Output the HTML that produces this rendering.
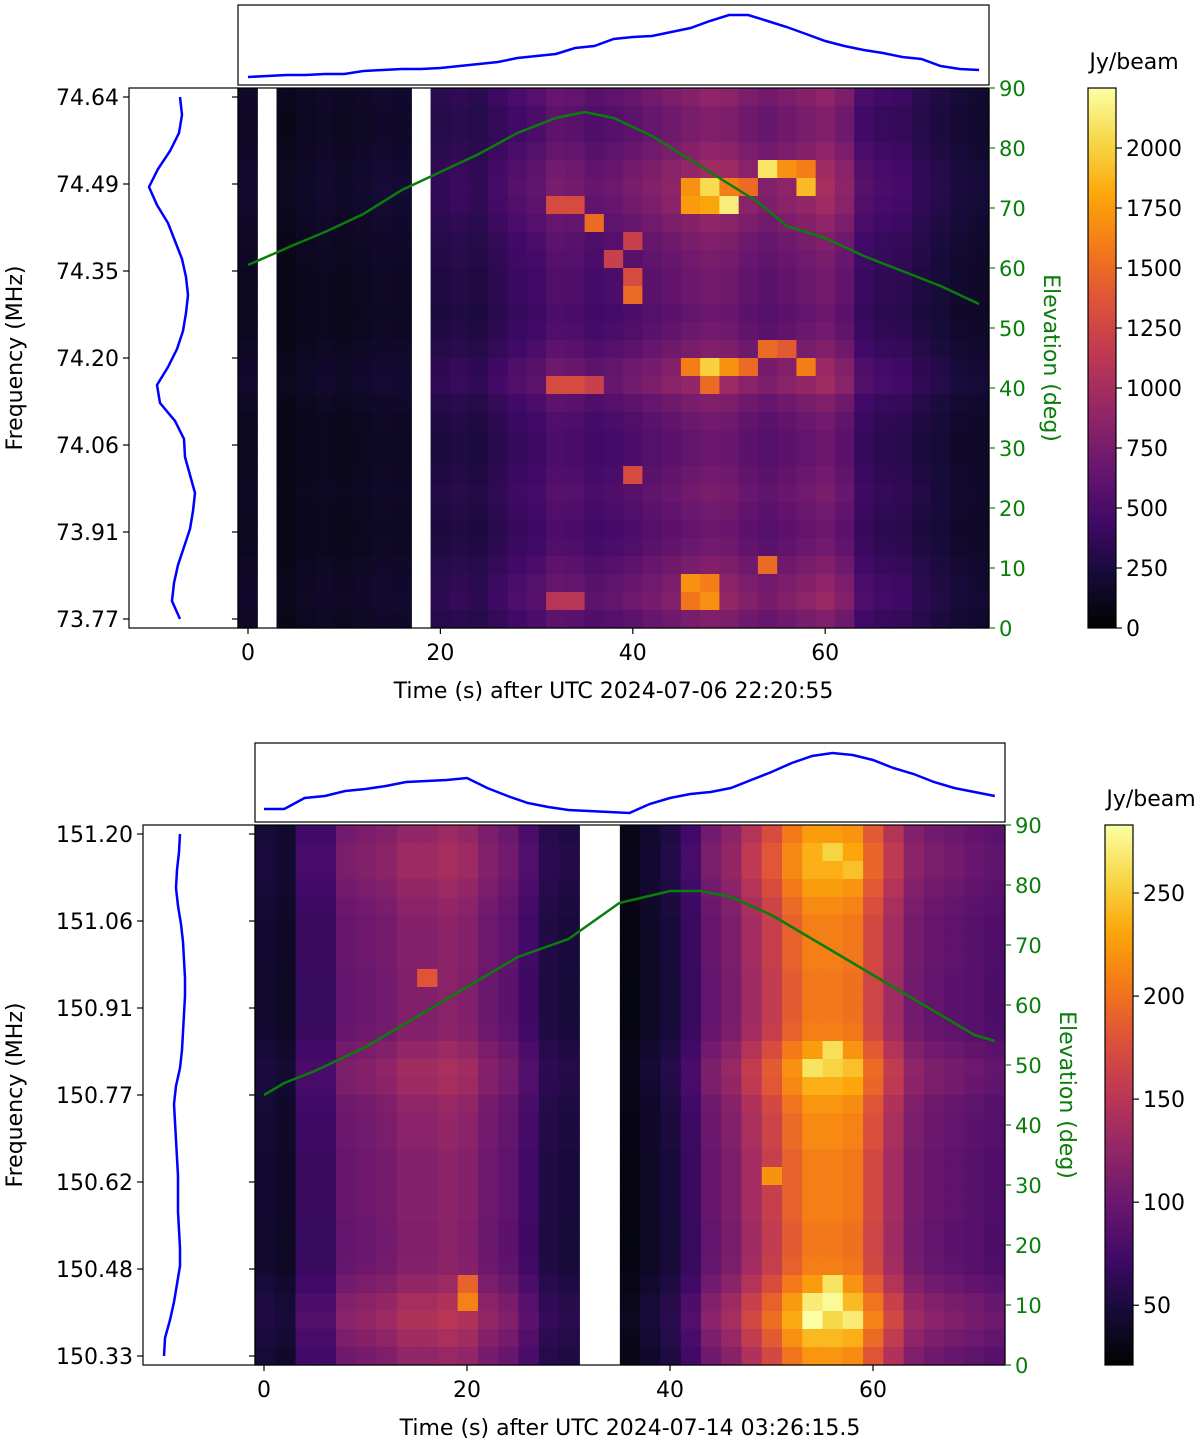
<!DOCTYPE html>
<html><head><meta charset="utf-8"><style>
body{margin:0;background:#fff}
svg text{font-family:"DejaVu Sans","Liberation Sans",sans-serif}
</style></head><body>
<svg id="chart" width="1200" height="1444" viewBox="0 0 1200 1444" xmlns="http://www.w3.org/2000/svg"></svg>
<script>
// ---------- Panel 1 data ----------
const p1ColBase=[150,null,100,130,150,130,150,170,160,null,300,330,300,380,450,500,600,580,520,550,600,650,700,750,800,780,700,650,700,750,800,700,450,400,380,300,250,200,180];
const p1RowFactor=[1.1,1.0,1.0,1.1,1.2,1.25,1.2,1.1,1.0,0.95,0.9,0.9,0.85,0.9,1.0,1.15,1.2,1.0,0.9,0.85,0.85,0.9,0.95,0.9,0.85,0.9,1.0,1.1,1.15,1.0];
const p1HotCol=[27,28,29,23,24,25,26,29,16,17,23,24,25,18,20,19,20,20,27,28,23,24,25,26,29,16,17,18,24,20,27,23,24,24,23,16,17];
const p1HotRow=[4,4,4,5,5,5,5,5,6,6,6,6,6,7,8,9,10,11,14,14,15,15,15,15,15,16,16,16,16,21,26,27,27,28,28,28,28];
const p1HotVal=[2100,1700,1600,1700,2050,1600,1500,1900,1300,1300,1750,1800,2150,1500,1200,1200,1300,1500,1500,1400,1600,2000,1700,1500,1600,1300,1300,1200,1500,1300,1500,1700,1600,1700,1550,1100,1100];
const p1TopT=[0,2,4,6,8,10,12,14,16,18,20,22,24,26,28,30,32,34,36,38,40,42,44,46,48,50,52,54,56,58,60,62,64,66,68,70,72,74,76];
const p1TopV=[4,5,6,6,7,7,10,11,12,12,13,15,17,19,23,25,27,33,35,42,44,45,49,53,60,66,66,60,54,47,40,35,31,28,24,22,15,12,11];
const p1LeftV=[40,42,39,30,18,9,17,28,35,42,46,48,46,43,37,28,17,20,35,44,45,50,55,53,50,44,38,34,32,40];
const p1ElevT=[0,5,8,12,16,20,24,28,32,35,38,42,46,50,53,56,60,64,68,72,76];
const p1ElevV=[60.5,64,66,69,73,76,79,82.5,85,86,85,82,78,74,71,67,65,62,59.5,57,54];
const p1FreqTicks=["74.64","74.49","74.35","74.20","74.06","73.91","73.77"];
// ---------- Panel 2 data ----------
const p2ColBase=[45,40,70,70,100,105,110,120,120,125,120,105,95,75,55,50,null,null,30,40,50,70,100,115,140,165,195,215,215,210,175,140,110,100,95,90,85];
const p2RowFactor=[1.05,1.1,1.1,1.05,1.0,0.97,0.97,0.97,0.95,0.95,0.95,0.97,1.05,1.12,1.1,1.03,1.0,1.0,0.97,0.97,0.97,0.97,0.95,0.95,0.97,1.05,1.15,1.2,1.12,1.03];
const p2HotCol=[28,29,28,27,28,29,27,28,29,27,28,8,10,10,25];
const p2HotRow=[1,2,12,13,13,13,26,26,27,27,25,8,25,26,19];
const p2HotVal=[255,245,262,265,255,245,270,280,270,285,265,180,190,210,220];
const p2TopT=[0,2,4,6,8,10,12,14,16,18,20,22,24,26,28,30,32,34,36,38,40,42,44,46,48,50,52,54,56,58,60,62,64,66,68,70,72];
const p2TopV=[9,9,20,22,27,29,32,36,37,38,40,30,22,15,11,8,7,6,5,14,20,24,26,30,38,46,55,62,65,63,58,50,44,36,30,26,22];
const p2LeftV=[40,39,37,36,38,41,43,44,45,45,44,43,42,40,36,34,35,36,37,38,38,38,39,40,40,37,34,30,25,24];
const p2ElevT=[0,2,5,10,15,20,25,30,35,40,43,46,50,55,60,65,70,72];
const p2ElevV=[45,47,49,53,58,63,68,71,77,79,79,78,75,70,65,60,55,54];
const p2FreqTicks=["151.20","151.06","150.91","150.77","150.62","150.48","150.33"];

const NS="http://www.w3.org/2000/svg";
const svg=document.getElementById('chart');
function mk(tag,attrs,parent,text){const e=document.createElementNS(NS,tag);for(const k in attrs)e.setAttribute(k,attrs[k]);if(text!==undefined)e.textContent=text;(parent||svg).appendChild(e);return e;}
const stops=[[0,4,0],[22,11,57],[66,10,104],[106,23,110],[147,38,103],[188,55,84],[221,81,58],[243,120,25],[252,165,10],[246,215,70],[252,255,164]];
function inferno(t){t=Math.max(0,Math.min(1,t));const f=t*10,i=Math.min(9,Math.floor(f)),u=f-i;const a=stops[i],b=stops[i+1];return `rgb(${Math.round(a[0]+(b[0]-a[0])*u)},${Math.round(a[1]+(b[1]-a[1])*u)},${Math.round(a[2]+(b[2]-a[2])*u)})`;}

function panel(P){
  const g=mk('g',{},svg);
  const nC=P.colBase.length,nR=P.rowFactor.length;
  const cw=(P.x1-P.x0)/nC,rh=(P.y1-P.y0)/nR;
  const xs=t=>P.tx0+t*P.tpx;
  const ey=v=>P.y1-(v/90)*(P.y1-P.y0);
  const cnorm=v=>(v-P.vmin)/(P.vmax-P.vmin);
  const hm=mk('g',{},g);
  for(let c=0;c<nC;c++){if(P.colBase[c]===null)continue;for(let r=0;r<nR;r++){
    let v=P.colBase[c]*P.rowFactor[r];
    for(let h=0;h<P.hotCol.length;h++)if(P.hotCol[h]===c&&P.hotRow[h]===r)v=P.hotVal[h];
    const e=mk('rect',{x:(P.x0+c*cw).toFixed(2),y:(P.y0+r*rh).toFixed(2),width:(cw+0.6).toFixed(2),height:(rh+0.6).toFixed(2),fill:inferno(cnorm(v))},hm);
    }}
  mk('rect',{x:P.x0,y:P.y0,width:P.x1-P.x0,height:P.y1-P.y0,fill:'none',stroke:'#000','stroke-width':1.2},g);
  let d=P.elevT.map((t,i)=>(i?'L':'M')+xs(t).toFixed(1)+' '+ey(P.elevV[i]).toFixed(1)).join(' ');
  let e=mk('path',{d,fill:'none',stroke:'#0a7d0a','stroke-width':2.5},g);
  [0,20,40,60].forEach(t=>{mk('line',{x1:xs(t),x2:xs(t),y1:P.y1,y2:P.y1+6,stroke:'#000','stroke-width':1.2},g);
    const tx=mk('text',{x:xs(t),y:P.y1+32,'font-size':22,'text-anchor':'middle'},g,String(t));});
  const xt=mk('text',{x:(P.x0+P.x1)/2-P.xtitleShift,y:P.y1+70,'font-size':22,'text-anchor':'middle'},g,P.xtitle);
  for(let v=0;v<=90;v+=10){const y=ey(v);mk('line',{x1:P.x1,x2:P.x1+6,y1:y,y2:y,stroke:'#0a7d0a','stroke-width':1.2},g);
    const t=mk('text',{x:P.x1+10,y:y+8,'font-size':21,fill:'#0a7d0a'},g,String(v));}
  const yc=(P.y0+P.y1)/2;
  const et=mk('text',{x:P.x1+55,y:yc,'font-size':22,fill:'#0a7d0a','text-anchor':'middle',transform:`rotate(90 ${P.x1+55} ${yc})`},g,'Elevation (deg)');
  mk('rect',{x:P.lx0,y:P.y0,width:P.x0-P.lx0,height:P.y1-P.y0,fill:'none',stroke:'#000','stroke-width':1.2},g);
  const ry=r=>P.y0+(r+0.5)*rh;
  d=P.leftV.map((v,r)=>(r?'L':'M')+(P.lpx0+v).toFixed(1)+' '+ry(r).toFixed(1)).join(' ');
  e=mk('path',{d,fill:'none',stroke:'#0000ff','stroke-width':2.5},g);
  P.freqTicks.forEach((s,i)=>{const y=ry(i*(nR-1)/6);
    mk('line',{x1:P.lx0-6,x2:P.lx0,y1:y,y2:y,stroke:'#000','stroke-width':1.2},g);
    mk('line',{x1:P.x0-6,x2:P.x0,y1:y,y2:y,stroke:'#000','stroke-width':1.2},g);
    const t=mk('text',{x:P.lx0-10,y:y+8,'font-size':22,'text-anchor':'end'},g,s);});
  const ft=mk('text',{x:22,y:yc,'font-size':22,'text-anchor':'middle',transform:`rotate(-90 22 ${yc})`},g,'Frequency (MHz)');
  mk('rect',{x:P.x0,y:P.ty0,width:P.x1-P.x0,height:P.ty1-P.ty0,fill:'none',stroke:'#000','stroke-width':1.2},g);
  d=P.topT.map((t,i)=>(i?'L':'M')+xs(t).toFixed(1)+' '+(P.ty1-4-P.topV[i]).toFixed(1)).join(' ');
  e=mk('path',{d,fill:'none',stroke:'#0000ff','stroke-width':2.5},g);
  const cb=mk('g',{},g);
  const gid='grad'+P.id;const defs=mk('defs',{},cb);const lg=mk('linearGradient',{id:gid,x1:0,y1:1,x2:0,y2:0},defs);
  for(let i=0;i<=10;i++)mk('stop',{offset:i/10,'stop-color':inferno(i/10)},lg);
  mk('rect',{x:P.cbx,y:P.y0,width:28,height:P.y1-P.y0,fill:`url(#${gid})`,stroke:'#000','stroke-width':1.2},cb);
  P.cbTicks.forEach(v=>{const y=P.y1-cnorm(v)*(P.y1-P.y0);mk('line',{x1:P.cbx+28,x2:P.cbx+34,y1:y,y2:y,stroke:'#000','stroke-width':1.2},cb);
    const t=mk('text',{x:P.cbx+38,y:y+8,'font-size':22},cb,String(v));});
  const cl=mk('text',{x:P.cbx+46,y:P.y0-19,'font-size':22,'text-anchor':'middle'},cb,'Jy/beam');
}
panel({id:1,name:'panel-top',x0:238,x1:989,y0:88,y1:628,tx0:248,tpx:9.62,vmin:0,vmax:2250,colBase:p1ColBase,rowFactor:p1RowFactor,hotCol:p1HotCol,hotRow:p1HotRow,hotVal:p1HotVal,
  elevT:p1ElevT,elevV:p1ElevV,xtitle:'Time (s) after UTC 2024-07-06 22:20:55',xtitleShift:0,lx0:129,lpx0:140,leftV:p1LeftV,freqTicks:p1FreqTicks,ty0:5,ty1:85,topT:p1TopT,topV:p1TopV,cbx:1088,cbTicks:[0,250,500,750,1000,1250,1500,1750,2000]});
panel({id:2,name:'panel-bottom',x0:255,x1:1005,y0:825,y1:1365,tx0:264,tpx:10.15,vmin:21,vmax:283,colBase:p2ColBase,rowFactor:p2RowFactor,hotCol:p2HotCol,hotRow:p2HotRow,hotVal:p2HotVal,
  elevT:p2ElevT,elevV:p2ElevV,xtitle:'Time (s) after UTC 2024-07-14 03:26:15.5',xtitleShift:0,lx0:143,lpx0:140,leftV:p2LeftV,freqTicks:p2FreqTicks,ty0:743,ty1:822,topT:p2TopT,topV:p2TopV,cbx:1105,cbTicks:[50,100,150,200,250]});
</script>
</body></html>
